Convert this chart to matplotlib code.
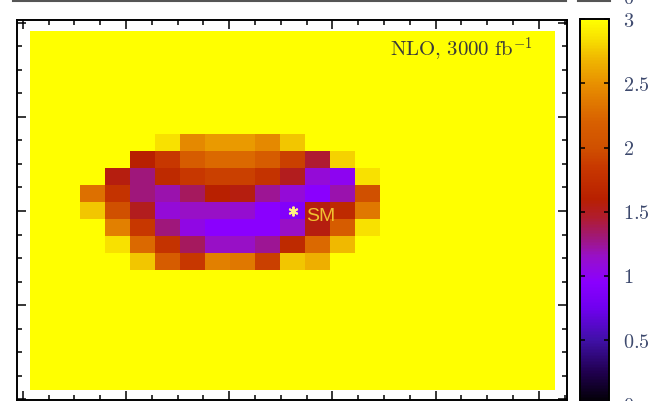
import numpy as np
import matplotlib
matplotlib.use('Agg')
import matplotlib.pyplot as plt
from matplotlib.colors import LinearSegmentedColormap
from matplotlib.lines import Line2D

plt.rcParams['mathtext.fontset'] = 'cm'

# 21 x 21 scan, everything outside the block sits at the colour-scale maximum
GRID_N = 21
BACKGROUND = 3.0
BLOCK_ROW0 = 6
BLOCK_COL0 = 2
BLOCK = [
    [3.00, 3.00, 3.00, 2.85, 2.45, 2.55, 2.55, 2.45, 2.75, 3.00, 3.00, 3.00],
    [3.00, 3.00, 1.60, 1.85, 2.15, 2.25, 2.25, 2.15, 1.90, 1.45, 2.80, 3.00],
    [3.00, 1.55, 1.30, 1.70, 1.85, 1.90, 1.90, 1.80, 1.50, 1.10, 1.00, 2.85],
    [2.30, 1.80, 1.30, 1.20, 1.35, 1.60, 1.55, 1.25, 1.10, 0.95, 1.20, 2.00],
    [2.75, 2.00, 1.50, 1.10, 1.15, 1.15, 1.12, 0.95, 0.90, 1.55, 1.70, 2.35],
    [3.00, 2.40, 1.85, 1.30, 1.05, 0.95, 0.95, 0.95, 1.15, 1.55, 2.15, 2.85],
    [3.00, 2.85, 2.25, 1.80, 1.35, 1.15, 1.15, 1.25, 1.70, 2.25, 2.70, 3.00],
    [3.00, 3.00, 2.75, 2.15, 1.85, 2.40, 2.35, 1.90, 2.75, 2.65, 3.00, 3.00],
]
CBAR_TICKS = [0, 0.5, 1, 1.5, 2, 2.5, 3]
VMIN, VMAX = 0.0, 3.0
LABEL = r'$\mathrm{NLO{,}\ 3000\ fb}^{-1}$'
SM_LABEL = 'SM'

CMAP_NODES = [
    (0.00, '#000000'), (0.25, '#200050'), (0.50, '#4010a8'), (0.75, '#7000f0'),
    (0.95, '#8a00ff'), (1.15, '#9810c8'), (1.30, '#a01878'), (1.45, '#b01c30'),
    (1.60, '#b82000'), (1.85, '#c83800'), (2.00, '#d05000'), (2.20, '#d86000'),
    (2.35, '#e07800'), (2.50, '#e89000'), (2.70, '#f0b800'), (2.85, '#f8e000'),
    (3.00, '#ffff00'),
]

# layout (axis units, major tick = 1)
EXTENT = (0.0698, 5.157, 0.0957, 3.9043)
XLIM = (-0.0562, 5.2733)
YLIM = (-0.0106, 4.0372)

W, H = 652, 401
fig = plt.figure(figsize=(W / 100, H / 100), dpi=100)
ax = fig.add_axes([17 / W, 1 - 400 / H, 550 / W, 380.5 / H])
cax = fig.add_axes([580 / W, 1 - 404.3 / H, 29 / W, 385.2 / H])

z = np.full((GRID_N, GRID_N), BACKGROUND)
block = np.array(BLOCK)
z[BLOCK_ROW0:BLOCK_ROW0 + block.shape[0], BLOCK_COL0:BLOCK_COL0 + block.shape[1]] = block

cmap = LinearSegmentedColormap.from_list('sunset', [(v / VMAX, c) for v, c in CMAP_NODES])
im = ax.imshow(z, cmap=cmap, vmin=VMIN, vmax=VMAX, extent=EXTENT, origin='upper',
               interpolation='nearest', aspect='auto')
ax.set_xlim(*XLIM)
ax.set_ylim(*YLIM)

ax.set_xticks(np.arange(0, 6))
ax.set_xticks(np.arange(0, 5.3, 0.25), minor=True)
ax.set_yticks(np.arange(0, 5))
ax.set_yticks(np.arange(0, 4.1, 0.25), minor=True)
ax.tick_params(which='both', direction='in', top=True, right=True,
               labelbottom=False, labelleft=False, width=1.1, color='black')
ax.tick_params(which='major', length=6.2)
ax.tick_params(which='minor', length=3.6)
for s in ax.spines.values():
    s.set_linewidth(1.4)

# SM point at the centre of the scan
sm_x = (EXTENT[0] + EXTENT[1]) / 2
sm_y = (EXTENT[2] + EXTENT[3]) / 2
ax.plot(sm_x, sm_y, marker=(6, 2, 0), ms=7, mew=1.4, color='#fff080', ls='none')
ax.annotate(SM_LABEL, (sm_x, sm_y), xytext=(10, -4), textcoords='offset points',
            va='center', ha='left', fontsize=14, color='#f0c030', family='Liberation Sans')

ax.text(0.938, 0.901, LABEL, transform=ax.transAxes, ha='right', va='baseline',
        fontsize=15, color='#3a3a3a')

cbar = fig.colorbar(im, cax=cax, ticks=CBAR_TICKS)
cbar.set_ticklabels([f'${t:g}$' for t in CBAR_TICKS])
cbar.outline.set_linewidth(1.4)
cax.tick_params(direction='in', left=True, right=True, length=3.8, width=1.1,
                labelsize=14.5, labelcolor='#3e4a6e', pad=10)
cax.minorticks_off()

# remnants of the panel above (cropped)
fig.add_artist(Line2D([13 / W, 566 / W], [1 - 0.8 / H] * 2, transform=fig.transFigure,
                      color='#555555', lw=1.5))
fig.add_artist(Line2D([578 / W, 610 / W], [1 - 0.8 / H] * 2, transform=fig.transFigure,
                      color='#555555', lw=1.5))
fig.text(623 / W, 1 - 4 / H, '$0$', fontsize=14.5, color='#3e4a6e', va='baseline')

fig.savefig('out.png', dpi=100)
